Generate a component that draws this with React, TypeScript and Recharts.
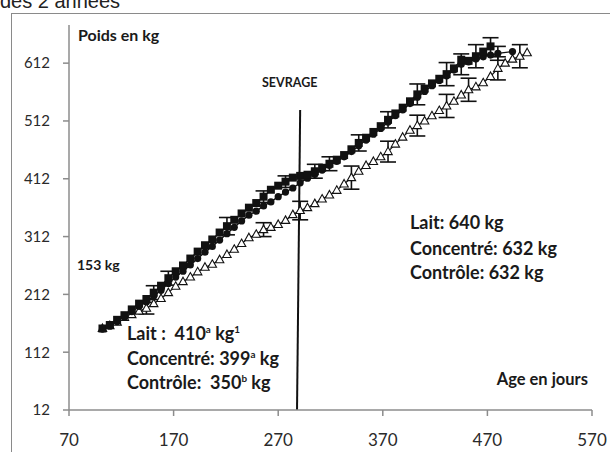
import React from "react";
import { LineChart, Line, XAxis, YAxis, ErrorBar, ReferenceLine } from "recharts";

const xTicks = [70, 170, 270, 370, 470, 570];
const yTicks = [12, 112, 212, 312, 412, 512, 612];

const laitDays = [102,109,116,123,130,137,144,151,158,165,172,179,186,193,200,207,214,221,228,235,242,249,256,263,270,277,284,291,298,305,312,319,326,333,340,347,354,361,368,375,382,389,396,403,410,417,424,431,438,445,452,459,466,473];
const laitKg = [153,159,168,176,186,196,204,215,227,240,252,262,274,286,297,307,319,330,341,352,362,370,381,393,400,407,414,417,419,425,431,438,445,453,463,474,483,493,503,514,525,535,546,558,568,577,585,593,603,618,616,624,632,641];
const laitErrDays = [151,165,221,256,277,305,319,347,375,403,431,459,473];
const laitErrVals = [12,12,15,10,10,12,12,14,14,18,20,20,15];

const concDays = [102,109,116,123,130,137,144,151,158,165,172,179,186,193,200,207,214,221,228,235,242,249,256,263,270,277,284,291,298,305,312,319,326,333,340,347,354,361,368,375,382,389,396,403,410,417,424,431,438,445,452,459,466,473,480,494];
const concKg = [152,157,165,173,182,191,199,209,219,231,242,252,263,274,285,295,306,317,328,339,349,356,365,372,381,389,396,405,413,420,427,435,442,450,459,469,479,489,499,510,521,531,542,553,563,573,582,590,600,610,614,619,623,626,629,632];
const concErrDays = [445, 480];
const concErrVals = [18, 12];

const ctrlDays = [102,109,116,123,130,137,144,151,158,165,172,179,186,193,200,207,214,221,228,235,242,249,256,263,270,277,284,291,298,305,312,319,326,333,340,347,354,361,368,375,382,389,396,403,410,417,424,431,438,445,452,459,466,473,480,487,494,501,508];
const ctrlKg = [153,158,164,172,177,183,188,196,205,215,226,234,242,251,259,264,272,281,290,300,310,316,324,328,333,340,350,357,362,369,377,384,392,403,414,425,435,442,450,459,472,484,496,504,512,521,530,538,546,557,566,571,578,589,603,612,619,624,630];
const ctrlErrDays = [144,256,291,340,375,403,431,452,480,501];
const ctrlErrVals = [10,12,16,20,18,18,20,20,20,20];

const errFor = (days: number[], vals: number[], d: number) => {
  const i = days.indexOf(d);
  return i >= 0 ? vals[i] : 0;
};

const laitData = laitDays.map((d, i) => ({ day: d, kg: laitKg[i], err: errFor(laitErrDays, laitErrVals, d) }));
const concData = concDays.map((d, i) => ({ day: d, kg: concKg[i], err: errFor(concErrDays, concErrVals, d) }));
const ctrlData = ctrlDays.map((d, i) => ({ day: d, kg: ctrlKg[i], err: errFor(ctrlErrDays, ctrlErrVals, d) }));

const FONT = "Lato, 'Liberation Sans', Arial, sans-serif";

const SquareDot = (p: any) =>
  p.cx == null ? <g key={`sq${p.index}`} /> : (
    <rect key={`sq${p.index}`} x={p.cx - 4} y={p.cy - 4} width={8} height={8} fill="#111" />
  );
const CircleDot = (p: any) =>
  p.cx == null ? <g key={`ci${p.index}`} /> : (
    <circle key={`ci${p.index}`} cx={p.cx} cy={p.cy} r={3.6} fill="#111" />
  );
const TriDot = (p: any) =>
  p.cx == null ? <g key={`tr${p.index}`} /> : (
    <path
      key={`tr${p.index}`}
      d={`M${p.cx},${p.cy - 4.5} L${p.cx + 4.2},${p.cy + 3} L${p.cx - 4.2},${p.cy + 3} Z`}
      fill="#fff"
      stroke="#111"
      strokeWidth={1.1}
    />
  );

const Txt = ({ left, top, size, children, bold = true, align = "left" as any, width }: any) => (
  <div
    style={{
      position: "absolute",
      left,
      top,
      fontSize: size,
      lineHeight: `${size}px`,
      fontWeight: bold ? 700 : 400,
      fontFamily: FONT,
      color: "#1a1a1a",
      whiteSpace: "nowrap",
      textAlign: align,
      width,
    }}
  >
    {children}
  </div>
);

const sup = { fontSize: "0.55em", verticalAlign: "0.7em", lineHeight: 0 } as any;

export default function App() {
  return (
    <div style={{ position: "absolute", left: 0, top: 0, width: 610, height: 452, overflow: "hidden", background: "#fff" }}>
      <div
        style={{
          position: "absolute",
          left: 0,
          top: -9,
          fontSize: 20,
          lineHeight: "20px",
          fontFamily: "'Liberation Sans', Arial, sans-serif",
          color: "#222",
          whiteSpace: "nowrap",
        }}
      >
        des 2 années
      </div>
      <div
        style={{
          position: "absolute",
          left: 11,
          top: 13,
          width: 700,
          height: 500,
          borderLeft: "1.5px solid #8a8a8a",
          borderTop: "1.5px solid #8a8a8a",
        }}
      />
      <div style={{ position: "absolute", left: 0, top: 0 }}>
        <LineChart width={610} height={452} margin={{ top: 25, right: 18, left: 29, bottom: 12 }}>
          <XAxis
            type="number"
            dataKey="day"
            domain={[70, 570]}
            ticks={xTicks}
            interval={0}
            height={30}
            tickSize={6}
            tickMargin={18}
            stroke="#8c8c8c"
            strokeWidth={1.5}
            tick={{ fill: "#2a2a2a", fontSize: 17, fontFamily: FONT }}
            allowDuplicatedCategory={false}
          />
          <YAxis
            type="number"
            dataKey="kg"
            domain={[12, 678]}
            ticks={yTicks}
            interval={0}
            width={40}
            tickSize={6}
            tickMargin={13}
            stroke="#8c8c8c"
            strokeWidth={1.5}
            tick={{ fill: "#2a2a2a", fontSize: 15, fontFamily: FONT }}
          />
          <ReferenceLine
            segment={[{ x: 291, y: 531 }, { x: 288, y: 12 }]}
            stroke="#111"
            strokeWidth={2}
          />
          <Line
            data={ctrlData}
            dataKey="kg"
            stroke="#111"
            strokeWidth={1.2}
            dot={TriDot}
            isAnimationActive={false}
          >
            <ErrorBar dataKey="err" width={8} stroke="#111" strokeWidth={1.6} direction="y" />
          </Line>
          <Line
            data={concData}
            dataKey="kg"
            stroke="#111"
            strokeWidth={1.4}
            dot={CircleDot}
            isAnimationActive={false}
          >
            <ErrorBar dataKey="err" width={8} stroke="#111" strokeWidth={1.6} direction="y" />
          </Line>
          <Line
            data={laitData}
            dataKey="kg"
            stroke="#111"
            strokeWidth={1.4}
            dot={SquareDot}
            isAnimationActive={false}
          >
            <ErrorBar dataKey="err" width={8} stroke="#111" strokeWidth={1.6} direction="y" />
          </Line>
        </LineChart>
      </div>
      <Txt left={78} top={27} size={16}>Poids en kg</Txt>
      <Txt left={262} top={77} size={12.5}>SEVRAGE</Txt>
      <Txt left={77} top={258} size={14}>153 kg</Txt>
      <Txt left={400} top={371} size={16.5} align="right" width={188}>Age en jours</Txt>
      <Txt left={410} top={213} size={18}>Lait: 640 kg</Txt>
      <Txt left={410} top={239} size={18}>Concentré: 632 kg</Txt>
      <Txt left={410} top={263} size={18}>Contrôle: 632 kg</Txt>
      <Txt left={127} top={324} size={18}>
        Lait :&nbsp; 410<span style={sup}>a</span> kg<span style={sup}>1</span>
      </Txt>
      <Txt left={127} top={349} size={18}>
        Concentré: 399<span style={sup}>a</span> kg
      </Txt>
      <Txt left={127} top={373} size={18}>
        Contrôle:&nbsp; 350<span style={sup}>b</span> kg
      </Txt>
    </div>
  );
}
